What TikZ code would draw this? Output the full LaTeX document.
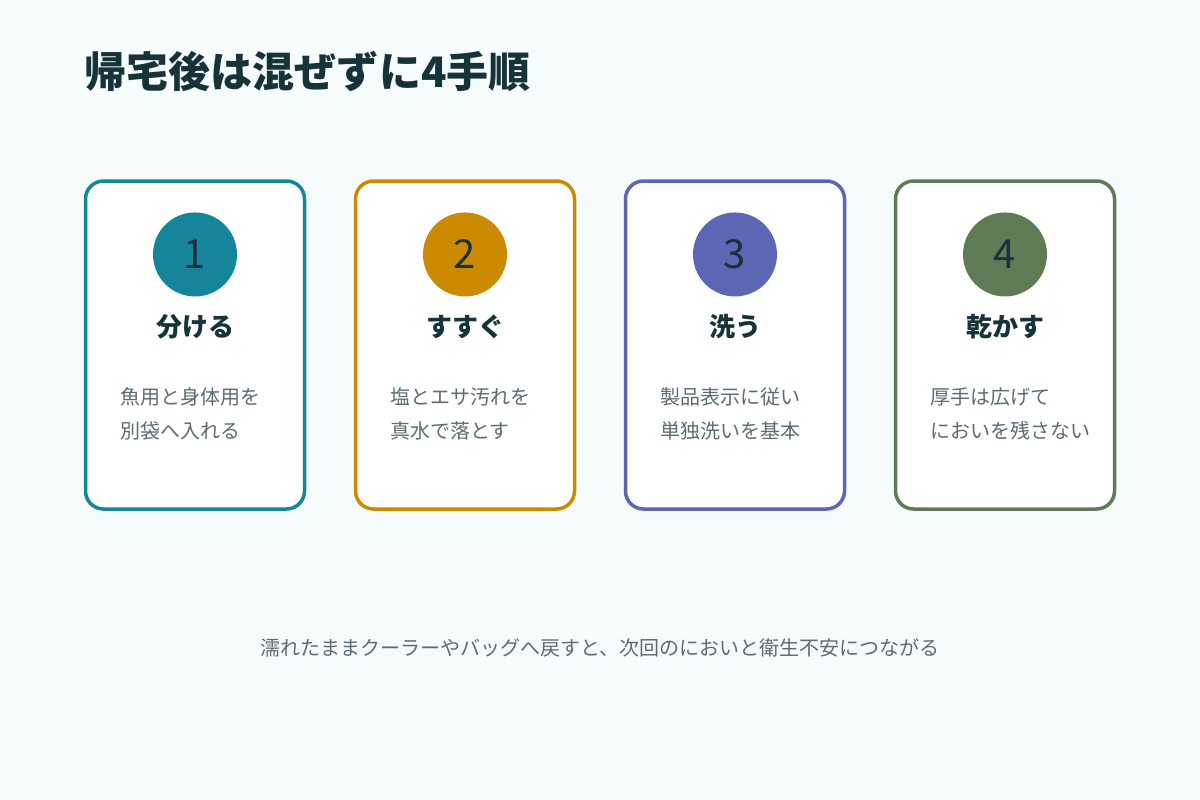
\documentclass[tikz,border=0pt]{standalone}
\usepackage{fontspec}
\setmainfont{Noto Sans CJK JP}
\usetikzlibrary{positioning}
\definecolor{pageBg}{RGB}{246,251,252}
\definecolor{inkDark}{RGB}{23,51,58}
\definecolor{inkSoft}{RGB}{92,108,114}
\definecolor{stepTeal}{RGB}{21,133,155}
\definecolor{stepGold}{RGB}{204,138,0}
\definecolor{stepIndigo}{RGB}{91,103,181}
\definecolor{stepMoss}{RGB}{94,123,86}

\begin{document}
\begin{tikzpicture}[x=1pt,y=-1pt,
    card/.style={rectangle,rounded corners=18pt,line width=3.5pt,fill=white,
                 minimum width=219pt,minimum height=328pt,inner sep=0pt},
    badge/.style={circle,minimum size=84pt,inner sep=0pt,text=inkDark,
                  font=\fontsize{40}{40}\selectfont},
    ttl/.style={font=\fontsize{26}{26}\selectfont\bfseries,text=inkDark},
    desc/.style={font=\fontsize{20}{34}\selectfont,text=inkSoft,align=left,
                 anchor=west,inner sep=0pt}]

    \fill[pageBg] (0,0) rectangle (1200,800);

    % heading
    \node[anchor=base west,inner sep=0pt,text=inkDark,
          font=\fontsize{42}{42}\selectfont\bfseries] (head) at (84,88) {帰宅後は混ぜずに4手順};

    % steps
    \foreach \i/\col/\name/\lineA/\lineB in {
        1/stepTeal/分ける/魚用と身体用を/別袋へ入れる,
        2/stepGold/すすぐ/塩とエサ汚れを/真水で落とす,
        3/stepIndigo/洗う/製品表示に従い/単独洗いを基本,
        4/stepMoss/乾かす/厚手は広げて/においを残さない} {
      \pgfmathsetmacro\cx{195+270*(\i-1)}
      \node[card,draw=\col] (card\i) at (\cx,345) {};
      \node[badge,fill=\col,below=33pt of card\i.north] (num\i) {\i};
      \node[ttl] (title\i) at (\cx,327) {\name};
      \node[desc] (desc\i) at (\cx-75,414) {\lineA\\\lineB};
    }

    % note below
    \node[font=\fontsize{20}{20}\selectfont,text=inkSoft] (note) at (600,648)
      {濡れたままクーラーやバッグへ戻すと、次回のにおいと衛生不安につながる};
\end{tikzpicture}
\end{document}
